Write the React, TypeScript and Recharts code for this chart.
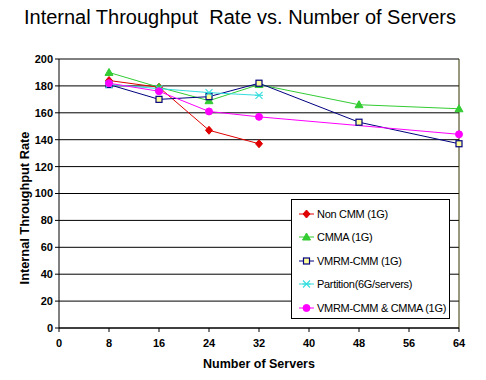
import React from "react";
import { LineChart, Line, XAxis, YAxis, CartesianGrid, ReferenceLine, Label } from "recharts";

const servers = [8, 16, 24, 32, 48, 64];
const nonCmm = [184, 179, 147, 137, null, null];
const cmma = [190, 179, 169, 181, 166, 163];
const vmrmCmm = [181, 170, 172, 182, 153, 137];
const partition = [181, 178, 175, 173, null, null];
const vmrmCmma = [182, 176, 161, 157, null, 144];

const xTicks = [0, 8, 16, 24, 32, 40, 48, 56, 64];
const yTicks = [0, 20, 40, 60, 80, 100, 120, 140, 160, 180, 200];

const data = servers.map((s, i) => ({
  servers: s,
  nonCmm: nonCmm[i],
  cmma: cmma[i],
  vmrmCmm: vmrmCmm[i],
  partition: partition[i],
  vmrmCmma: vmrmCmma[i],
}));

const font = "'Liberation Sans', Arial, sans-serif";

type Kind = "diamond" | "triangle" | "square" | "star" | "circle";

function Marker({ kind, x, y, color }: { kind: Kind; x: number; y: number; color: string }) {
  if (kind === "diamond")
    return <polygon points={`${x},${y - 4} ${x + 3.5},${y} ${x},${y + 4} ${x - 3.5},${y}`} fill={color} stroke={color} />;
  if (kind === "triangle")
    return <polygon points={`${x},${y - 4} ${x + 4},${y + 3} ${x - 4},${y + 3}`} fill={color} stroke={color} />;
  if (kind === "square")
    return <rect x={x - 3} y={y - 3} width={6} height={6} fill="#ffff99" stroke={color} strokeWidth={1.2} />;
  if (kind === "star")
    return (
      <g stroke={color} strokeWidth={1.1}>
        <line x1={x - 3.5} y1={y - 3.5} x2={x + 3.5} y2={y + 3.5} />
        <line x1={x - 3.5} y1={y + 3.5} x2={x + 3.5} y2={y - 3.5} />
        <line x1={x - 4} y1={y} x2={x + 4} y2={y} />
      </g>
    );
  return <circle cx={x} cy={y} r={3.5} fill={color} stroke={color} />;
}

const series: { key: string; name: string; color: string; kind: Kind }[] = [
  { key: "nonCmm", name: "Non CMM (1G)", color: "#e00000", kind: "diamond" },
  { key: "cmma", name: "CMMA (1G)", color: "#33cc33", kind: "triangle" },
  { key: "vmrmCmm", name: "VMRM-CMM (1G)", color: "#000080", kind: "square" },
  { key: "partition", name: "Partition(6G/servers)", color: "#33dddd", kind: "star" },
  { key: "vmrmCmma", name: "VMRM-CMM & CMMA (1G)", color: "#ff00ff", kind: "circle" },
];

const makeDot = (kind: Kind, color: string) => (props: any) => {
  const { cx, cy, value, index } = props;
  if (value == null || cy == null || isNaN(cy)) return <g key={index} />;
  return <Marker key={index} kind={kind} x={cx} y={cy} color={color} />;
};

function LegendBox() {
  return (
    <div style={{ position: "absolute", left: 291, top: 199, width: 159, height: 120, border: "1px solid #000", background: "#fff", boxSizing: "border-box" }}>
      {series.map((s, i) => (
        <div key={s.key} style={{ position: "absolute", left: 6, top: 6 + i * 23.4, height: 16, display: "flex", alignItems: "center", whiteSpace: "nowrap" }}>
          <svg width={17} height={16}>
            <line x1={1} y1={8} x2={16} y2={8} stroke={s.color} strokeWidth={1} />
            <Marker kind={s.kind} x={8.5} y={8} color={s.color} />
          </svg>
          <span style={{ fontFamily: font, fontSize: 11, letterSpacing: -0.3, color: "#000", marginLeft: 2 }}>{s.name}</span>
        </div>
      ))}
    </div>
  );
}

const yLabel = () => (
  <text x={24} y={208} transform="rotate(-90 24 208)" textAnchor="middle" dominantBaseline="central" fill="#000" fontFamily={font} fontSize={12.8} fontWeight="bold">
    Internal Throughput Rate
  </text>
);

export default function App() {
  return (
    <div style={{ position: "absolute", left: 0, top: 0, width: 486, height: 380, background: "#fff" }}>
      <LineChart width={486} height={380} data={data} margin={{ top: 59, right: 27, bottom: 0, left: 0 }}>
        <CartesianGrid vertical={false} stroke="#000" strokeWidth={1} />
        <XAxis
          dataKey="servers"
          type="number"
          domain={[0, 64]}
          ticks={xTicks}
          interval={0}
          height={52}
          stroke="#000"
          tickSize={4}
          tick={{ fill: "#000", fontFamily: font, fontSize: 11, fontWeight: "bold" }}
          tickMargin={7}
        >
          <Label value="Number of Servers" position="insideBottom" offset={12} style={{ fill: "#000", fontFamily: font, fontSize: 12.5, fontWeight: "bold" }} />
        </XAxis>
        <YAxis
          domain={[0, 200]}
          ticks={yTicks}
          interval={0}
          width={59}
          stroke="#000"
          tickSize={4}
          tick={{ fill: "#000", fontFamily: font, fontSize: 11, fontWeight: "bold" }}
          tickMargin={2}
        >
          <Label content={yLabel} />
        </YAxis>
        <ReferenceLine x={64} stroke="#333300" />
        {series.map((s) => (
          <Line
            key={s.key}
            dataKey={s.key}
            name={s.name}
            stroke={s.color}
            strokeWidth={1}
            connectNulls
            isAnimationActive={false}
            dot={makeDot(s.kind, s.color)}
            activeDot={false}
          />
        ))}
      </LineChart>
      <div style={{ position: "absolute", left: 0, width: 480, top: 6, textAlign: "center", fontFamily: font, fontSize: 20, color: "#000", whiteSpace: "pre" }}>
        {"Internal Throughput  Rate vs. Number of Servers"}
      </div>
      <LegendBox />
    </div>
  );
}
